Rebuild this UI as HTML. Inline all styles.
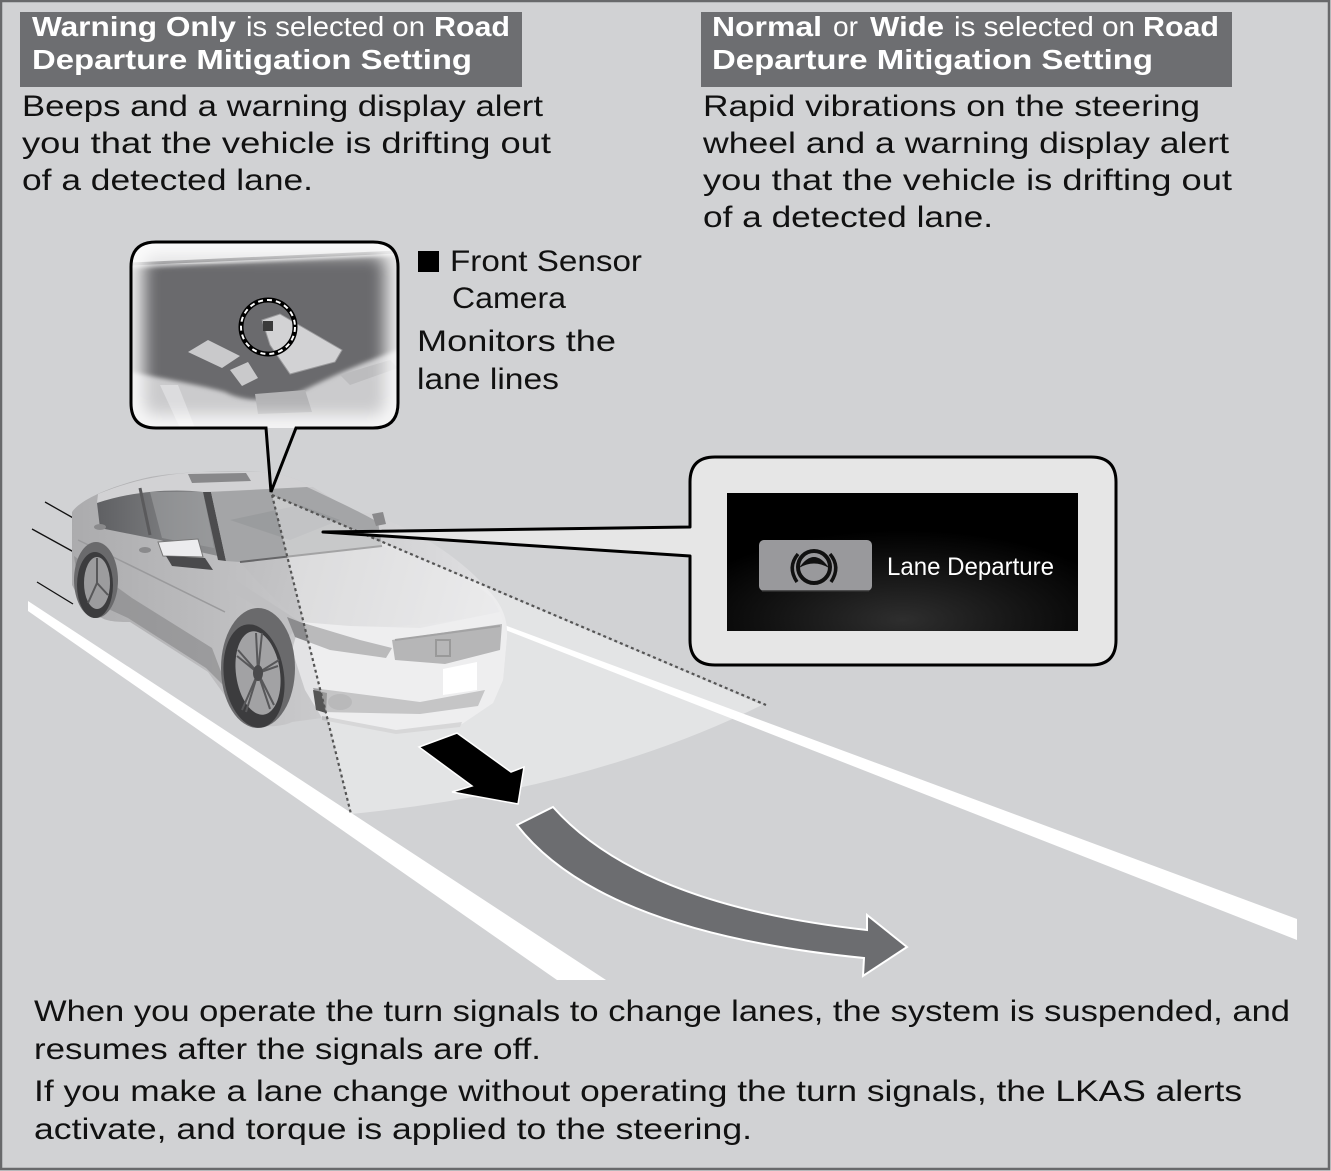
<!DOCTYPE html>
<html>
<head>
<meta charset="utf-8">
<style>
  html,body{margin:0;padding:0;background:#d1d2d4;}
  svg{display:block;}
  .t{font-family:"Liberation Sans",Arial,sans-serif;}
</style>
</head>
<body>
<svg width="1331" height="1171" viewBox="0 0 1331 1171" xmlns="http://www.w3.org/2000/svg">
  <defs>
    <linearGradient id="bodyG" gradientUnits="userSpaceOnUse" x1="70" y1="0" x2="510" y2="0">
      <stop offset="0" stop-color="#ababad"/>
      <stop offset="0.5" stop-color="#c6c6c8"/>
      <stop offset="1" stop-color="#e2e2e4"/>
    </linearGradient>
    <linearGradient id="hoodG" gradientUnits="userSpaceOnUse" x1="240" y1="550" x2="500" y2="620">
      <stop offset="0" stop-color="#bdbdbf"/>
      <stop offset="1" stop-color="#dedee0"/>
    </linearGradient>
    <linearGradient id="winG" gradientUnits="userSpaceOnUse" x1="97" y1="0" x2="220" y2="0">
      <stop offset="0" stop-color="#5f6063"/>
      <stop offset="1" stop-color="#8e8f91"/>
    </linearGradient>
    <radialGradient id="scrG" cx="0.5" cy="0.92" r="0.65">
      <stop offset="0" stop-color="#2e2e2e"/>
      <stop offset="0.55" stop-color="#141414"/>
      <stop offset="1" stop-color="#000"/>
    </radialGradient>
    <filter id="blur8" x="-20%" y="-20%" width="140%" height="140%"><feGaussianBlur stdDeviation="8"/></filter>
    <filter id="blur2" x="-10%" y="-10%" width="120%" height="120%"><feGaussianBlur stdDeviation="2"/></filter>
    <clipPath id="camClip"><rect x="131" y="242" width="267" height="186" rx="25" ry="25"/></clipPath>
  </defs>

  <!-- background -->
  <rect x="0" y="0" width="1331" height="1171" fill="#d1d2d4"/>

  <!-- road lines -->
  <polygon points="28,601 606,980 557,980 28,611" fill="#fff"/>
  <polygon points="480,616 1297,919 1297,940 480,620" fill="#fff"/>

  <!-- speed lines -->
  <g stroke="#111" stroke-width="1.3">
    <line x1="45" y1="502" x2="75" y2="519"/>
    <line x1="32" y1="529" x2="121" y2="578"/>
    <line x1="37" y1="582" x2="73" y2="604"/>
  </g>

  <!-- CAR -->
  <g>
    <path d="M72,512 C80,500 110,486 150,477 C175,472 230,470 262,472 C285,474 300,480 313,487 L358,514 C366,512 376,512 384,519 C425,535 465,562 488,590 C502,604 508,620 507,636 L503,680 L493,703 L462,724 L396,732 L322,718 L292,722 C280,728 255,728 245,720 L228,700 L208,672 L130,622 C118,622 104,622 96,614 L80,600 L72,585 Z" fill="url(#bodyG)"/>
    <!-- lower side shade -->
    <path d="M74,556 L132,598 L212,648 L228,690 L206,668 L128,618 L80,596 Z" fill="#858587" opacity="0.6"/>
    <path d="M78,540 C120,560 170,585 225,612" stroke="#9a9a9c" stroke-width="1.5" fill="none"/>
    <!-- roof -->
    <path d="M98,494 C130,481 162,474 200,472 L262,472 C285,474 300,480 313,487 L203,492 C170,490 130,495 97,503 Z" fill="#d2d2d4"/>
    <path d="M188,474 L246,473 L251,481 L192,483 Z" fill="#88888a"/>
    <!-- side windows -->
    <path d="M97,503 C130,492 170,488 203,492 L218,556 L200,552 L160,540 L100,528 Z" fill="url(#winG)"/>
    <path d="M150,492 L203,492 L214,548 L162,538 Z" fill="#a3a4a6" opacity="0.55"/>
    <line x1="140" y1="488" x2="150" y2="535" stroke="#5a5a5c" stroke-width="3"/>
    <!-- A pillar -->
    <path d="M203,492 L211,492 L226,561 L218,560 Z" fill="#4c4c4e"/>
    <!-- windshield -->
    <path d="M211,492 L307,487 C335,500 360,512 378,522 L382,546 C350,552 300,556 240,562 L226,561 Z" fill="#a4a5a7"/>
    <path d="M230,520 L300,505 L340,520 L290,540 Z" fill="#959698" opacity="0.6"/>
    <!-- hood -->
    <path d="M240,562 L382,546 C430,560 470,578 492,598 L500,612 C460,622 400,628 350,626 L300,622 C280,605 260,585 240,562 Z" fill="url(#hoodG)"/>
    <line x1="240" y1="562" x2="382" y2="546" stroke="#666668" stroke-width="2"/>
    <!-- fender near headlight -->
    <path d="M228,575 C250,590 275,605 300,622 L287,640 C270,615 250,600 226,590 Z" fill="#bfbfc1"/>
    <!-- front bumper/face -->
    <path d="M300,622 L350,626 L420,628 L500,612 L507,636 L503,680 L493,703 L462,724 L396,732 L322,718 L305,690 L292,650 Z" fill="#e3e3e5"/>
    <!-- headlight -->
    <path d="M287,617 L300,622 L360,640 L392,648 L386,658 L330,650 L295,637 Z" fill="#8c8c8e"/>
    <!-- grille -->
    <path d="M392,640 L502,624 L500,650 L445,664 L395,660 Z" fill="#868688"/>
    <path d="M395,640 L500,626" stroke="#666668" stroke-width="2"/>
    <rect x="436" y="640" width="14" height="16" fill="none" stroke="#555" stroke-width="2"/>
    <!-- license plate -->
    <polygon points="443,669 477,662 477,690 443,695" fill="#fff"/>
    <!-- lower intake -->
    <path d="M313,688 L420,702 L485,690 L478,706 L420,714 L322,712 Z" fill="#9e9ea0"/>
    <ellipse cx="340" cy="702" rx="12" ry="8" fill="#8a8a8c"/>
    <path d="M313,690 L327,693 L326,713 L316,710 Z" fill="#555"/>
    <path d="M322,716 L396,730 L462,722 L460,727 L396,734 L322,720 Z" fill="#bdbdbf"/>
    <!-- wheels -->
    <ellipse cx="258" cy="668" rx="37" ry="60" fill="#6a6a6c"/>
    <ellipse cx="254" cy="676" rx="30" ry="52" fill="#3c3c3e" transform="rotate(-8 254 676)"/>
    <ellipse cx="258" cy="673" rx="22" ry="42" fill="#a2a2a4" transform="rotate(-8 258 673)"/>
    <g stroke="#58585a" stroke-width="2">
      <line x1="258" y1="673" x2="256" y2="633"/>
      <line x1="258" y1="673" x2="262" y2="633"/>
      <line x1="258" y1="673" x2="279" y2="660"/>
      <line x1="258" y1="673" x2="278" y2="666"/>
      <line x1="258" y1="673" x2="274" y2="705"/>
      <line x1="258" y1="673" x2="270" y2="709"/>
      <line x1="258" y1="673" x2="242" y2="710"/>
      <line x1="258" y1="673" x2="246" y2="712"/>
      <line x1="258" y1="673" x2="238" y2="650"/>
      <line x1="258" y1="673" x2="237" y2="656"/>
    </g>
    <ellipse cx="258" cy="673" rx="5" ry="8" fill="#4a4a4c"/>
    <ellipse cx="96" cy="580" rx="22" ry="38" fill="#6a6a6c"/>
    <ellipse cx="95" cy="585" rx="18" ry="33" fill="#3c3c3e"/>
    <ellipse cx="97" cy="583" rx="13" ry="26" fill="#9c9c9e"/>
    <g stroke="#58585a" stroke-width="2">
      <line x1="97" y1="583" x2="97" y2="558"/>
      <line x1="97" y1="583" x2="108" y2="595"/>
      <line x1="97" y1="583" x2="88" y2="603"/>
    </g>
    <!-- side mirror -->
    <path d="M158,542 L198,539 L203,557 L163,556 Z" fill="#ececee" stroke="#777" stroke-width="1"/>
    <path d="M166,556 L205,558 L213,570 L172,566 Z" fill="#4a4a4c"/>
    <!-- right mirror -->
    <path d="M372,514 L383,512 L386,524 L376,526 Z" fill="#8a8a8c"/>
    <!-- door handles -->
    <ellipse cx="100" cy="527" rx="6" ry="3" fill="#8a8a8c"/>
    <ellipse cx="145" cy="550" rx="6" ry="3" fill="#8a8a8c"/>
  </g>

  <!-- camera field fan -->
  <path d="M272,495 L351,814 Q590,790 762,705 Z" fill="#ffffff" opacity="0.4"/>
  <g stroke="#555" stroke-width="2.2" stroke-dasharray="3 3" fill="none">
    <line x1="272" y1="495" x2="351" y2="814"/>
    <line x1="272" y1="495" x2="766" y2="705"/>
  </g>

  <!-- black arrow -->
  <polygon points="419,747 457,733 511,772 524,767 518,804 452,792 472,786" fill="#000" stroke="#fff" stroke-width="1.5" stroke-linejoin="miter"/>

  <!-- gray curved arrow -->
  <path d="M517,825 L553,807 Q640,905 867,930 L867,915 L907,947 L863,976 L864,958 Q600,932 517,825 Z" fill="#6c6d70" stroke="#fff" stroke-width="2"/>

  <!-- Lane departure callout -->
  <path d="M715,457 H1091 Q1116,457 1116,482 V640 Q1116,665 1091,665 H715 Q690,665 690,640 V556 L323,532 L690,527 V482 Q690,457 715,457 Z" fill="#e6e6e6" stroke="#000" stroke-width="3" stroke-linejoin="round"/>
  <rect x="727" y="493" width="351" height="138" fill="url(#scrG)"/>
  <rect x="759" y="540" width="113" height="51" rx="5" fill="#99999c"/>
  <line x1="762" y1="591" x2="869" y2="591" stroke="#333" stroke-width="1.5"/>
  <!-- steering icon -->
  <g>
    <circle cx="814" cy="567" r="16" fill="none" stroke="#111" stroke-width="4"/>
    <path d="M799,568 Q814,546 829,568 Q814,559 799,568 Z" fill="#111"/>
    <path d="M798,554 Q787,567 797,582" fill="none" stroke="#111" stroke-width="3.5"/>
    <path d="M830,554 Q841,567 831,582" fill="none" stroke="#111" stroke-width="3.5"/>
  </g>
  <text class="t" x="887" y="575" font-size="25" fill="#fff" textLength="167" lengthAdjust="spacingAndGlyphs">Lane Departure</text>

  <!-- Camera callout -->
  <g clip-path="url(#camClip)">
    <rect x="131" y="242" width="267" height="186" fill="#cbcbcd"/>
    <rect x="131" y="242" width="267" height="22" fill="#e4e4e5"/>
    <line x1="131" y1="264" x2="398" y2="252" stroke="#9a9a9c" stroke-width="3"/>
    <path d="M131,268 L398,255 L398,350 C370,360 340,372 300,392 C270,405 240,400 225,392 C200,385 170,380 131,372 Z" fill="#6b6b6d" filter="url(#blur2)"/>
    <path d="M255,394 L305,390 L312,412 L258,414 Z" fill="#b3b3b5"/>
    <path d="M160,385 L180,428 L195,428 L178,385 Z" fill="#dcdcde"/>
    <path d="M340,375 L390,360 L398,368 L350,385 Z" fill="#bcbcbe"/>
    <path d="M188,352 L208,340 L240,356 L222,368 Z" fill="#c9c9cb"/>
    <path d="M230,370 L248,362 L258,378 L242,386 Z" fill="#c9c9cb"/>
    <path d="M262,320 L280,314 L342,350 L335,362 L290,374 L270,345 Z" fill="#d2d2d4" stroke="#9a9a9c" stroke-width="1"/>
    <rect x="263" y="321" width="10" height="10" fill="#3a3a3a"/>
    <rect x="131" y="242" width="267" height="186" rx="25" fill="none" stroke="#ffffff" stroke-width="26" opacity="0.85" filter="url(#blur8)"/>
  </g>
  <circle cx="268" cy="327" r="27" fill="none" stroke="#000" stroke-width="5"/>
  <circle cx="268" cy="327" r="27" fill="none" stroke="#fff" stroke-width="2" stroke-dasharray="5 4"/>
  <path d="M156,242 H373 Q398,242 398,267 V403 Q398,428 373,428 H296 L271,492 L266,428 H156 Q131,428 131,403 V267 Q131,242 156,242 Z" fill="none" stroke="#000" stroke-width="3" stroke-linejoin="miter"/>

  <!-- Camera labels -->
  <rect x="418" y="251" width="21" height="21" fill="#000"/>
  <g class="t" font-size="30" fill="#111">
    <text x="450" y="271" textLength="192" lengthAdjust="spacingAndGlyphs">Front Sensor</text>
    <text x="452" y="308" textLength="114" lengthAdjust="spacingAndGlyphs">Camera</text>
    <text x="417" y="351" textLength="199" lengthAdjust="spacingAndGlyphs">Monitors the</text>
    <text x="417" y="389" textLength="142" lengthAdjust="spacingAndGlyphs">lane lines</text>
  </g>

  <!-- Header boxes -->
  <rect x="20" y="12" width="502" height="75" fill="#6d6e71"/>
  <rect x="701" y="12" width="531" height="75" fill="#6d6e71"/>
  <g class="t" font-size="28" fill="#fff">
    <text x="32" y="36" font-weight="bold" textLength="204" lengthAdjust="spacingAndGlyphs">Warning Only</text>
    <text x="246" y="36" textLength="179" lengthAdjust="spacingAndGlyphs">is selected on</text>
    <text x="434" y="36" font-weight="bold" textLength="76" lengthAdjust="spacingAndGlyphs">Road</text>
    <text x="32" y="69" font-weight="bold" textLength="440" lengthAdjust="spacingAndGlyphs">Departure Mitigation Setting</text>

    <text x="712" y="36" font-weight="bold" textLength="110" lengthAdjust="spacingAndGlyphs">Normal</text>
    <text x="833" y="36" textLength="25" lengthAdjust="spacingAndGlyphs">or</text>
    <text x="870" y="36" font-weight="bold" textLength="74" lengthAdjust="spacingAndGlyphs">Wide</text>
    <text x="954" y="36" textLength="181" lengthAdjust="spacingAndGlyphs">is selected on</text>
    <text x="1143" y="36" font-weight="bold" textLength="76" lengthAdjust="spacingAndGlyphs">Road</text>
    <text x="712" y="69" font-weight="bold" textLength="441" lengthAdjust="spacingAndGlyphs">Departure Mitigation Setting</text>
  </g>

  <!-- Body texts -->
  <g class="t" font-size="30" fill="#111">
    <text x="22" y="116" textLength="521" lengthAdjust="spacingAndGlyphs">Beeps and a warning display alert</text>
    <text x="22" y="153" textLength="529" lengthAdjust="spacingAndGlyphs">you that the vehicle is drifting out</text>
    <text x="22" y="190" textLength="291" lengthAdjust="spacingAndGlyphs">of a detected lane.</text>

    <text x="703" y="116" textLength="497" lengthAdjust="spacingAndGlyphs">Rapid vibrations on the steering</text>
    <text x="703" y="153" textLength="526" lengthAdjust="spacingAndGlyphs">wheel and a warning display alert</text>
    <text x="703" y="190" textLength="529" lengthAdjust="spacingAndGlyphs">you that the vehicle is drifting out</text>
    <text x="703" y="227" textLength="290" lengthAdjust="spacingAndGlyphs">of a detected lane.</text>

    <text x="34" y="1021" textLength="1256" lengthAdjust="spacingAndGlyphs">When you operate the turn signals to change lanes, the system is suspended, and</text>
    <text x="34" y="1059" textLength="507" lengthAdjust="spacingAndGlyphs">resumes after the signals are off.</text>
    <text x="34" y="1101" textLength="1208" lengthAdjust="spacingAndGlyphs">If you make a lane change without operating the turn signals, the LKAS alerts</text>
    <text x="34" y="1139" textLength="718" lengthAdjust="spacingAndGlyphs">activate, and torque is applied to the steering.</text>
  </g>

  <!-- frame border -->
  <rect x="1" y="1" width="1328" height="1168" fill="none" stroke="#68696b" stroke-width="2.5"/>
</svg>
</body>
</html>
